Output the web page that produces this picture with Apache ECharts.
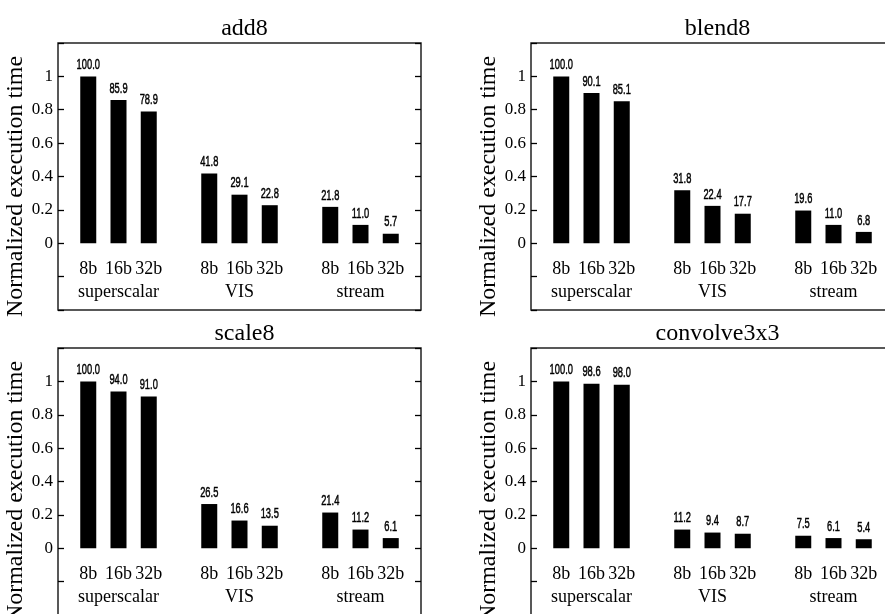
<!DOCTYPE html>
<html>
<head>
<meta charset="utf-8">
<title>Normalized execution time</title>
<script src="https://cdn.jsdelivr.net/npm/echarts@6/dist/echarts.min.js"></script>
<style>
  html, body { margin: 0; padding: 0; background: #fff; }
  #main { width: 885px; height: 614px; }
</style>
</head>
<body>
<div id="main"></div>
<script>
  // values are % of the superscalar 8b time, drawn as fractions
  var widths = ['8b', '16b', '32b'];
  var groups = ['superscalar', 'VIS', 'stream'];
  var titles = ['add8', 'blend8', 'scale8', 'convolve3x3'];
  var add8 = [100.0, 85.9, 78.9, 41.8, 29.1, 22.8, 21.8, 11.0, 5.7];
  var blend8 = [100.0, 90.1, 85.1, 31.8, 22.4, 17.7, 19.6, 11.0, 6.8];
  var scale8 = [100.0, 94.0, 91.0, 26.5, 16.6, 13.5, 21.4, 11.2, 6.1];
  var convolve3x3 = [100.0, 98.6, 98.0, 11.2, 9.4, 8.7, 7.5, 6.1, 5.4];
  var yTicks = ['0', '0.2', '0.4', '0.6', '0.8', '1'];

  var panels = [add8, blend8, scale8, convolve3x3];

  // frame (grid) of each panel: left, top
  var frames = [[58, 43], [531, 43], [58, 348], [531, 348]];
  var frameW = 363, frameH = 267;

  var serif = 'Liberation Serif, Times New Roman, serif';

  // 13 slots: gap, 8b 16b 32b, gap, 8b 16b 32b, gap, 8b 16b 32b, gap
  var slots = [''];
  groups.forEach(function () { slots = slots.concat(widths, ['']); });

  function slotIndex(k) {
    // k-th bar -> slot on the category axis
    return 1 + Math.floor(k / widths.length) * (widths.length + 1) + (k % widths.length);
  }

  function toSlots(vals) {
    var out = slots.map(function () { return '-'; });
    vals.forEach(function (v, k) { out[slotIndex(k)] = v / 100; });
    return out;
  }

  function toLabels(vals) {
    return vals.map(function (v, k) { return [slotIndex(k), v / 100]; });
  }

  function tickText(v) {
    for (var i = 0; i < yTicks.length; i++) {
      if (Math.abs(parseFloat(yTicks[i]) - v) < 1e-6) return yTicks[i];
    }
    return '';
  }

  // narrow value labels above the bars (condensed sans in the original)
  function renderLabel(params, api) {
    var pt = api.coord([api.value(0), api.value(1)]);
    return {
      type: 'text',
      x: pt[0], y: pt[1] - 4,
      scaleX: 0.62,
      style: {
        text: (api.value(1) * 100).toFixed(1),
        x: 0, y: 0,
        align: 'center', verticalAlign: 'bottom',
        font: '15px "Liberation Sans", Arial, sans-serif',
        fill: '#000', stroke: '#000', lineWidth: 0.5
      }
    };
  }

  var option = {
    backgroundColor: '#fff',
    animation: false,
    title: [], grid: [], xAxis: [], yAxis: [], series: []
  };

  panels.forEach(function (vals, i) {
    var fx = frames[i][0], fy = frames[i][1];

    option.title.push({
      text: titles[i],
      left: fx + frameW / 2,
      top: fy - 31,
      textAlign: 'center',
      textStyle: { fontFamily: serif, fontSize: 24, fontWeight: 'normal', color: '#000' }
    });

    option.grid.push({
      left: fx, top: fy, width: frameW, height: frameH,
      outerBoundsMode: 'none',
      show: true, borderColor: '#222', borderWidth: 1.5, backgroundColor: 'transparent'
    });

    // bar widths
    option.xAxis.push({
      type: 'category', gridIndex: i, data: slots, boundaryGap: false,
      axisLine: { show: false }, axisTick: { show: false }, splitLine: { show: false },
      axisLabel: {
        inside: true, margin: 41, interval: 0, verticalAlign: 'middle',
        fontFamily: serif, fontSize: 18, color: '#000'
      }
    });
    // group names
    option.xAxis.push({
      type: 'category', gridIndex: i, data: groups, position: 'bottom',
      axisLine: { show: false }, axisTick: { show: false }, splitLine: { show: false },
      axisLabel: {
        inside: true, margin: 18, interval: 0, verticalAlign: 'middle',
        fontFamily: serif, fontSize: 18, color: '#000'
      }
    });

    var yBase = {
      type: 'value', gridIndex: i, min: -0.4, max: 1.2, interval: 0.2,
      axisLine: { show: false }, splitLine: { show: false },
      axisTick: { show: true, inside: true, length: 6, lineStyle: { color: '#000', width: 1.3 } }
    };
    option.yAxis.push(Object.assign({}, yBase, {
      position: 'left',
      name: 'Normalized execution time',
      nameLocation: 'middle', nameRotate: 90, nameGap: 24,
      nameTextStyle: { fontFamily: serif, fontSize: 24, color: '#000', padding: [0, 20, 0, 0] },
      axisLabel: { margin: 5, fontFamily: serif, fontSize: 17, color: '#000', formatter: tickText }
    }));
    option.yAxis.push(Object.assign({}, yBase, {
      position: 'right',
      axisLabel: { show: false }
    }));

    option.series.push({
      name: titles[i],
      type: 'bar',
      xAxisIndex: 2 * i, yAxisIndex: 2 * i,
      data: toSlots(vals),
      barWidth: 16,
      itemStyle: { color: '#000' }
    });
    option.series.push({
      name: titles[i] + ' labels',
      type: 'custom',
      xAxisIndex: 2 * i, yAxisIndex: 2 * i,
      data: toLabels(vals),
      renderItem: renderLabel,
      silent: true,
      z: 5
    });
  });

  var myChart = echarts.init(document.getElementById('main'));
  myChart.setOption(option);
</script>
</body>
</html>
